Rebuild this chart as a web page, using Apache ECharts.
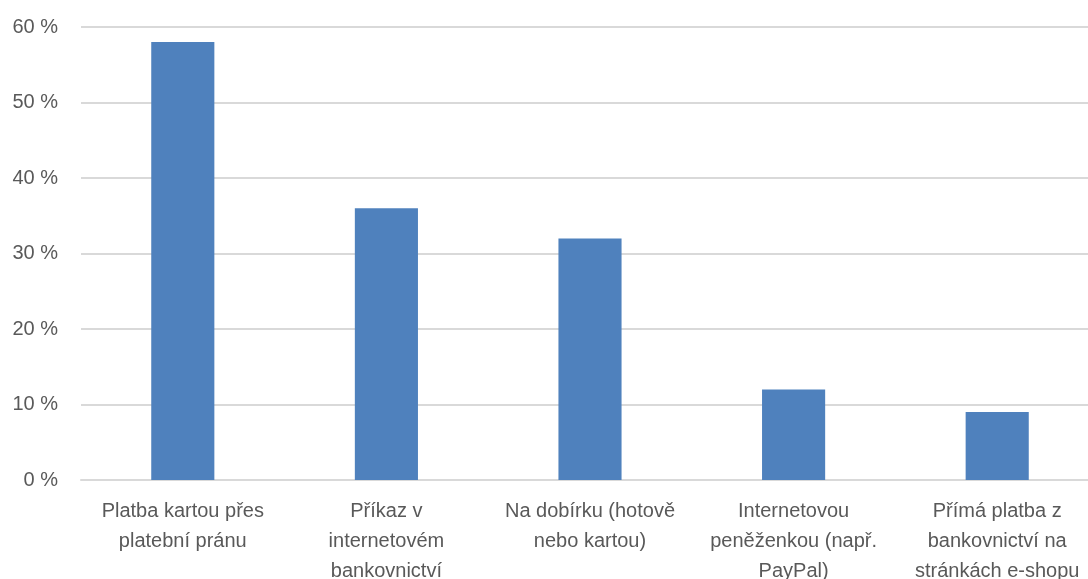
<!DOCTYPE html>
<html>
<head>
<meta charset="utf-8">
<script src="https://cdn.jsdelivr.net/npm/echarts@6/dist/echarts.min.js"></script>
<style>
  html, body { margin: 0; padding: 0; background: #fff; }
  #chart { width: 1088px; height: 579px; }
</style>
</head>
<body>
<div id="chart"></div>
<script>
// categories (wrapped as in the original)
const categories = [
  'Platba kartou přes\nplatební pránu',
  'Příkaz v\ninternetovém\nbankovnictví',
  'Na dobírku (hotově\nnebo kartou)',
  'Internetovou\npeněženkou (např.\nPayPal)',
  'Přímá platba z\nbankovnictví na\nstránkách e-shopu'
]
const shares = [58, 36, 32, 12, 9]
const yTicks = [0, 10, 20, 30, 40, 50, 60]

const fontFamily = '"Liberation Sans", "DejaVu Sans", sans-serif'
const textColor = '#595959'

let myChart = echarts.init(document.getElementById('chart'))

let option = {
  animation: false,
  grid: {
    left: 81,
    right: -11, // the original picture is cropped on the right
    top: 27,
    bottom: 99,
    containLabel: false,
    outerBoundsMode: 'none'
  },
  xAxis: {
    type: 'category',
    data: categories,
    axisTick: {show: false},
    axisLine: {lineStyle: {color: '#d9d9d9', width: 2}},
    axisLabel: {
      interval: 0,
      color: textColor,
      fontFamily: fontFamily,
      fontSize: 20,
      lineHeight: 30,
      margin: 16
    }
  },
  yAxis: {
    type: 'value',
    min: yTicks[0],
    max: yTicks[yTicks.length - 1],
    interval: 10,
    axisLine: {show: false},
    axisTick: {show: false},
    splitLine: {lineStyle: {color: '#d9d9d9', width: 2}},
    axisLabel: {
      color: textColor,
      fontFamily: fontFamily,
      fontSize: 20,
      margin: 23,
      formatter: function (v) { return v + ' %' }
    }
  },
  series: [
    {
      type: 'bar',
      data: shares,
      barWidth: '31%',
      itemStyle: {color: '#4f81bd'}
    }
  ]
}
myChart.setOption(option, true)
</script>
</body>
</html>
